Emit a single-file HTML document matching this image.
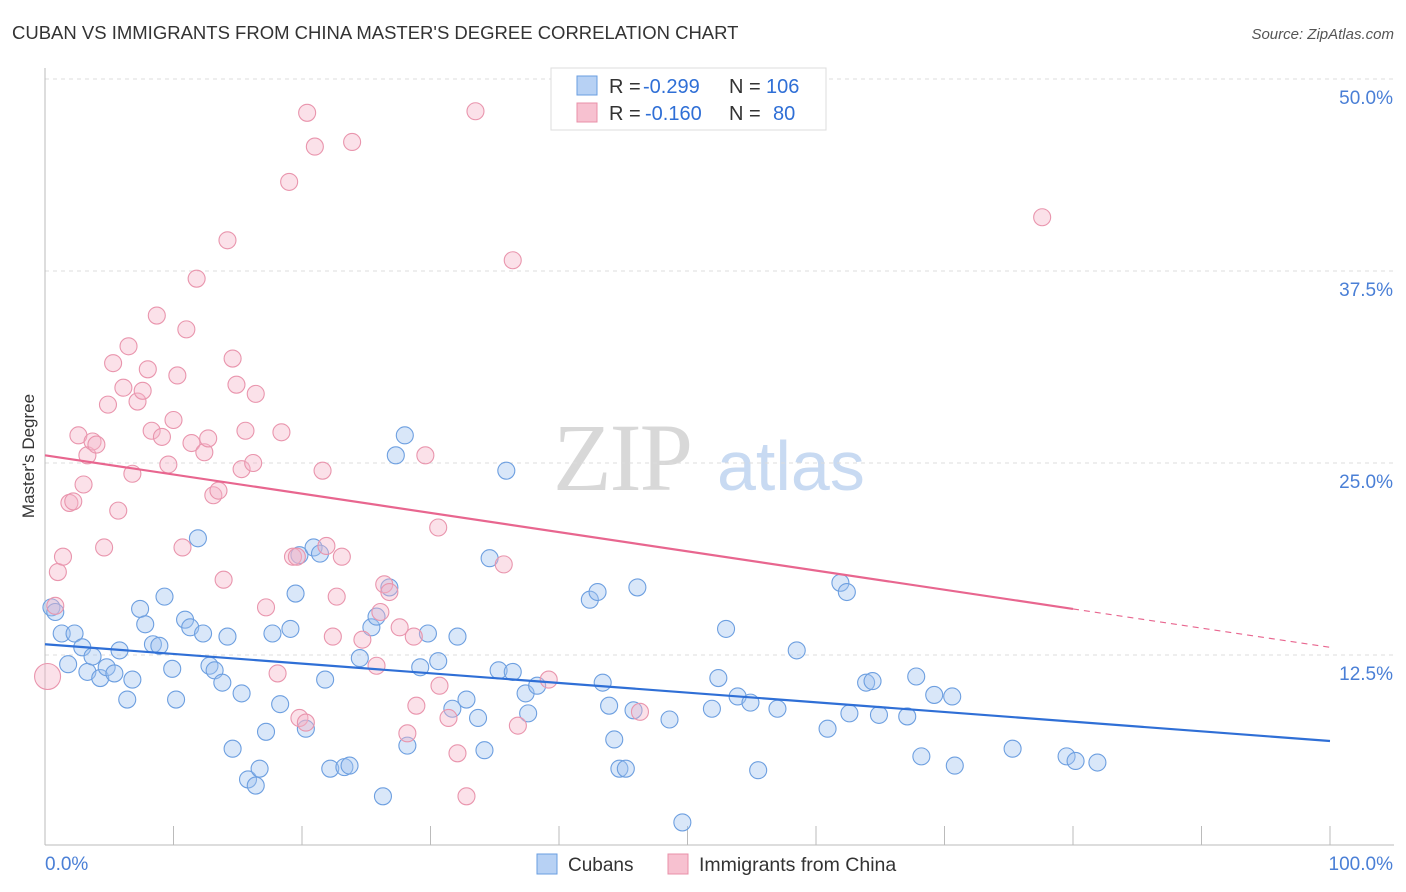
<!DOCTYPE html>
<html><head><meta charset="utf-8">
<style>
body{margin:0;background:#fff;font-family:"Liberation Sans",sans-serif;}
svg{display:block}
</style></head>
<body>
<svg id="chart" width="1406" height="892" viewBox="0 0 1406 892" xmlns="http://www.w3.org/2000/svg">
<text x="12" y="39" font-size="18.5" fill="#333" font-family="Liberation Sans, sans-serif">CUBAN VS IMMIGRANTS FROM CHINA MASTER'S DEGREE CORRELATION CHART</text>
<text x="1394" y="39" font-size="15" fill="#555" font-style="italic" text-anchor="end">Source: ZipAtlas.com</text>
<g>
<text x="553" y="490" font-size="96" fill="#d8d8d8" font-family="Liberation Serif, serif" letter-spacing="-2">ZIP</text>
<text x="717" y="490" font-size="70" fill="#c8daf2" font-family="Liberation Sans, sans-serif">atlas</text>
</g>
<g id="grid"></g>
<g id="axes"></g>
<g id="points"></g>
<g id="lines"></g>
<text transform="translate(34,456) rotate(-90)" font-size="17" fill="#333" text-anchor="middle">Master's Degree</text>
<text x="45" y="870" font-size="19" fill="#4a7fd6">0.0%</text>
<text x="1393" y="870" font-size="19" fill="#4a7fd6" text-anchor="end">100.0%</text>
<g font-size="20">
<rect x="551" y="68" width="275" height="62" fill="#fff" stroke="#ddd"/>
<rect x="577" y="76" width="20" height="19" fill="#b7d1f4" stroke="#6a9ee0"/>
<rect x="577" y="103" width="20" height="19" fill="#f7c1d0" stroke="#e890a8"/>
<text x="609" y="93" fill="#333">R =</text>
<text x="643" y="93" fill="#2f6fd6">-0.299</text>
<text x="729" y="93" fill="#333">N =</text>
<text x="766" y="93" fill="#2f6fd6">106</text>
<text x="609" y="120" fill="#333">R =</text>
<text x="645" y="120" fill="#2f6fd6">-0.160</text>
<text x="729" y="120" fill="#333">N =</text>
<text x="773" y="120" fill="#2f6fd6">80</text>
</g>
<g>
<rect x="537" y="854" width="20" height="20" fill="#b7d1f4" stroke="#6a9ee0"/>
<text x="568" y="871" font-size="19" fill="#333">Cubans</text>
<rect x="668" y="854" width="20" height="20" fill="#f7c1d0" stroke="#e890a8"/>
<text x="699" y="871" font-size="19.5" fill="#333">Immigrants from China</text>
</g>
</svg>
<script>
const yTicks=[12.5,25,37.5,50];
const yTickLabels=["12.5%","25.0%","37.5%","50.0%"];
const xTicks=[0,10,20,30,40,50,60,70,80,90,100];
const cubanX=[0.5,0.8,1.3,1.8,2.3,2.9,3.3,3.7,4.3,4.8,5.4,5.8,6.4,6.8,7.4,7.8,8.4,8.9,9.3,9.9,10.2,10.9,11.3,11.9,12.3,12.8,13.2,13.8,14.2,14.6,15.3,15.8,16.4,16.7,17.2,17.7,18.3,19.1,19.5,19.8,20.3,20.9,21.4,21.8,22.2,23.3,23.7,24.5,25.4,25.8,26.3,26.8,27.3,28.0,28.2,29.2,29.8,30.6,31.7,32.1,32.8,33.7,34.2,34.6,35.3,35.9,36.4,37.4,37.6,38.3,42.4,43.0,43.4,43.9,44.3,44.7,45.2,45.8,46.1,48.6,49.6,51.9,52.4,53.0,53.9,54.9,55.5,57.0,58.5,60.9,61.9,62.4,62.6,63.9,64.4,64.9,67.1,67.8,68.2,69.2,70.6,70.8,75.3,79.5,80.2,81.9];
const cubanY=[15.6,15.3,13.9,11.9,13.9,13.0,11.4,12.4,11.0,11.7,11.3,12.8,9.6,10.9,15.5,14.5,13.2,13.1,16.3,11.6,9.6,14.8,14.3,20.1,13.9,11.8,11.5,10.7,13.7,6.4,10.0,4.4,4.0,5.1,7.5,13.9,9.3,14.2,16.5,19.0,7.7,19.5,19.1,10.9,5.1,5.2,5.3,12.3,14.3,15.0,3.3,16.9,25.5,26.8,6.6,11.7,13.9,12.1,9.0,13.7,9.6,8.4,6.3,18.8,11.5,24.5,11.4,10.0,8.7,10.5,16.1,16.6,10.7,9.2,7.0,5.1,5.1,8.9,16.9,8.3,1.6,9.0,11.0,14.2,9.8,9.4,5.0,9.0,12.8,7.7,17.2,16.6,8.7,10.7,10.8,8.6,8.5,11.1,5.9,9.9,9.8,5.3,6.4,5.9,5.6,5.5];
const chinaX=[0.2,0.8,1.0,1.4,1.9,2.2,2.6,3.0,3.3,3.7,4.0,4.6,4.9,5.3,5.7,6.1,6.5,6.8,7.2,7.6,8.0,8.3,8.7,9.1,9.6,10.0,10.3,10.7,11.0,11.4,11.8,12.4,12.7,13.1,13.5,13.9,14.2,14.6,14.9,15.3,15.6,16.2,16.4,17.2,18.1,18.4,19.0,19.3,19.6,19.8,20.3,20.4,21.0,21.6,21.9,22.4,22.7,23.1,23.9,24.7,25.8,26.1,26.4,26.8,27.6,28.2,28.7,28.9,29.6,30.6,30.7,31.4,32.1,32.8,33.5,35.7,36.4,36.8,39.2,46.3,77.6];
const chinaY=[11.1,15.7,17.9,18.9,22.4,22.5,26.8,23.6,25.5,26.4,26.2,19.5,28.8,31.5,21.9,29.9,32.6,24.3,29.0,29.7,31.1,27.1,34.6,26.7,24.9,27.8,30.7,19.5,33.7,26.3,37.0,25.7,26.6,22.9,23.2,17.4,39.5,31.8,30.1,24.6,27.1,25.0,29.5,15.6,11.3,27.0,43.3,18.9,18.9,8.4,8.1,47.8,45.6,24.5,19.6,13.7,16.3,18.9,45.9,13.5,11.8,15.3,17.1,16.6,14.3,7.4,13.7,9.2,25.5,20.8,10.5,8.4,6.1,3.3,47.9,18.4,38.2,7.9,10.9,8.8,41.0];
const cubanTrend=[13.2,6.9];
const chinaTrend=[25.5,13.0];
const chinaSolidEnd=80;

const NS="http://www.w3.org/2000/svg";
const X0=45,X1=1330,Y0=847,YPER=192/12.5;
const sx=v=>X0+(X1-X0)*v/100;
const sy=v=>Y0-v*YPER;
function mk(tag,attrs,parent){const e=document.createElementNS(NS,tag);for(const k in attrs)e.setAttribute(k,attrs[k]);parent.appendChild(e);return e;}
const grid=document.getElementById('grid'),axes=document.getElementById('axes'),pts=document.getElementById('points'),lines=document.getElementById('lines');
yTicks.forEach((t,i)=>{
 const l=mk('line',{x1:X0,x2:1394,y1:sy(t),y2:sy(t),stroke:'#dcdcdc','stroke-dasharray':'4,4'},grid);
 
 
 const tx=mk('text',{x:1393,y:sy(t)+25,'font-size':19,fill:'#4a7fd6','text-anchor':'end'},grid);
 tx.textContent=yTickLabels[i];
 
 
});
const ya=mk('line',{x1:X0,x2:X0,y1:68,y2:845,stroke:'#bbb'},axes);


const xa=mk('line',{x1:X0,x2:1394,y1:845,y2:845,stroke:'#bbb'},axes);


xTicks.forEach(t=>{
 const l=mk('line',{x1:sx(t),x2:sx(t),y1:826,y2:845,stroke:'#bbb'},axes);
 
 
});
cubanX.forEach((x,i)=>{
 const c=mk('circle',{cx:sx(x),cy:sy(cubanY[i]),r:8.5,fill:'rgba(160,195,240,0.4)',stroke:'#6d9fe0','stroke-width':1.1},pts);
 
 
});
chinaX.forEach((x,i)=>{
 const c=mk('circle',{cx:sx(x),cy:sy(chinaY[i]),r:i===0?13:8.5,fill:'rgba(245,180,200,0.4)',stroke:'#e995ad','stroke-width':1.1},pts);
 
 
});
const f=(tr,x)=>tr[0]+(tr[1]-tr[0])*x/100;
const bl=mk('line',{x1:sx(0),y1:sy(f(cubanTrend,0)),x2:sx(100),y2:sy(f(cubanTrend,100)),stroke:'#2f6fd6','stroke-width':2.2},lines);


const pl=mk('line',{x1:sx(0),y1:sy(f(chinaTrend,0)),x2:sx(chinaSolidEnd),y2:sy(f(chinaTrend,chinaSolidEnd)),stroke:'#e8668f','stroke-width':2.2},lines);


const pd=mk('line',{x1:sx(chinaSolidEnd),y1:sy(f(chinaTrend,chinaSolidEnd)),x2:sx(100),y2:sy(f(chinaTrend,100)),stroke:'#e8668f','stroke-width':1.2,'stroke-dasharray':'6,5'},lines);


</script>
</body></html>
